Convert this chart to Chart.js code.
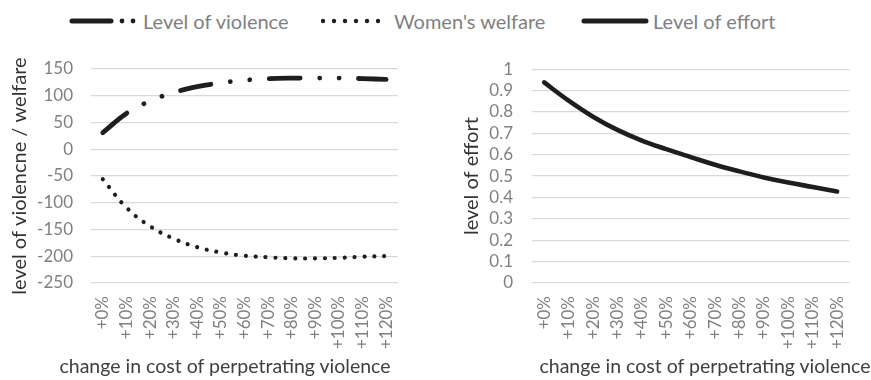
<!DOCTYPE html>
<html>
<head>
<meta charset="utf-8">
<script src="https://cdn.jsdelivr.net/npm/chart.js@4/dist/chart.umd.min.js"></script>
<style>
  html, body { margin: 0; padding: 0; background: #fff; overflow: hidden; width: 871px; height: 380px; }
  body { position: relative; font-family: Lato, "Open Sans", sans-serif; }
  .panel { position: absolute; top: 40px; }
  .lg-text { position: absolute; top: 9px; font-size: 20px; line-height: 24px; color: #7f7f7f; white-space: nowrap; }
  .lg-sample { position: absolute; top: 9px; }
  .xtitle { position: absolute; top: 355px; font-size: 19.5px; line-height: 22px; color: #404040; white-space: nowrap; transform: translateX(-50%); }
</style>
</head>
<body>
<!-- legend shared by both panels -->
<svg class="lg-sample" style="left:64px" width="78" height="24">
  <line x1="8" y1="12" x2="47" y2="12" stroke="#1e1e1e" stroke-width="5" stroke-linecap="round"/>
  <circle cx="58" cy="12" r="2.4" fill="#1e1e1e"/>
  <circle cx="69" cy="12" r="2.4" fill="#1e1e1e"/>
</svg>
<div class="lg-text" style="left:143px">Level of violence</div>
<svg class="lg-sample" style="left:316px" width="70" height="24">
  <circle cx="7" cy="12" r="2.2" fill="#1e1e1e"/>
  <circle cx="18" cy="12" r="2.2" fill="#1e1e1e"/>
  <circle cx="29" cy="12" r="2.2" fill="#1e1e1e"/>
  <circle cx="40" cy="12" r="2.2" fill="#1e1e1e"/>
  <circle cx="51" cy="12" r="2.2" fill="#1e1e1e"/>
  <circle cx="62" cy="12" r="2.2" fill="#1e1e1e"/>
</svg>
<div class="lg-text" style="left:394px">Women's welfare</div>
<svg class="lg-sample" style="left:578px" width="74" height="24">
  <line x1="6" y1="12" x2="68" y2="12" stroke="#1e1e1e" stroke-width="5" stroke-linecap="round"/>
</svg>
<div class="lg-text" style="left:653px">Level of effort</div>

<canvas id="left" class="panel" style="left:0px" width="420" height="340"></canvas>
<canvas id="right" class="panel" style="left:440px" width="431" height="340"></canvas>

<div class="xtitle" style="left:225px">change in cost of perpetrating violence</div>
<div class="xtitle" style="left:705px">change in cost of perpetrating violence</div>

<script>
// Cost increase steps shared by both panels
const categories = ['+0%', '+10%', '+20%', '+30%', '+40%', '+50%', '+60%',
                    '+70%', '+80%', '+90%', '+100%', '+110%', '+120%'];

// Left panel series
const violence = [31, 67, 90, 106, 117, 124, 129, 132, 133, 133, 133, 132, 130.5];
const welfare  = [-56, -109, -144, -167, -183, -193, -199, -202, -204, -204, -203, -201, -199.5];

// Right panel series
const effort = [0.938, 0.853, 0.778, 0.716, 0.666, 0.626, 0.589, 0.553, 0.522, 0.494, 0.470, 0.449, 0.428];

const FONT = 'Lato, "Open Sans", sans-serif';
const INK = '#1e1e1e';
const TICK_GREY = '#808080';
const GRID = '#d9d9d9';

// Plain number labels: "1", "0.9", "-250"
const plainNumber = v => String(Math.round(v * 1000) / 1000);

function xScale() {
  return {
    type: 'category',
    offset: true,
    grid: { display: false, drawTicks: false },
    border: { display: false },
    ticks: {
      autoSkip: false, maxRotation: 90, minRotation: 90, padding: 13,
      color: TICK_GREY, font: { family: FONT, size: 17 }
    },
    afterFit: s => { s.height = 97; }
  };
}

function yScale(opts) {
  return {
    min: opts.min, max: opts.max,
    grid: { color: GRID, lineWidth: 1.3, drawTicks: false },
    border: { display: false },
    ticks: {
      stepSize: opts.step, padding: opts.tickPad, autoSkip: false,
      callback: plainNumber,
      color: TICK_GREY, font: { family: FONT, size: 17 }
    },
    title: {
      display: true, text: opts.title, color: '#333333',
      font: { family: FONT, size: 20 }, padding: { top: opts.titlePad, bottom: 0 }
    },
    afterFit: s => { s.width = opts.width; }
  };
}

const common = {
  responsive: false,
  animation: false,
  devicePixelRatio: 1,
  plugins: { legend: { display: false }, tooltip: { enabled: false } },
  elements: { point: { radius: 0 }, line: { tension: 0.4, borderCapStyle: 'round', fill: false } }
};

new Chart(document.getElementById('left'), {
  type: 'line',
  data: {
    labels: categories,
    datasets: [
      { label: 'Level of violence', data: violence, borderColor: INK, borderWidth: 4.8,
        borderDash: [31, 19.5, 0.001, 19.5, 0.001, 19.5] },
      { label: "Women's welfare", data: welfare, borderColor: INK, borderWidth: 4.2,
        borderDash: [0.001, 9.9] }
    ]
  },
  options: Object.assign({}, common, {
    layout: { padding: { top: 29, right: 13, bottom: 0, left: 0 } },
    scales: {
      x: xScale(),
      y: yScale({ min: -250, max: 150, step: 50, tickPad: 18, width: 91,
                  title: 'level of violencne / welfare', titlePad: 7.5 })
    }
  })
});

new Chart(document.getElementById('right'), {
  type: 'line',
  data: {
    labels: categories,
    datasets: [
      { label: 'Level of effort', data: effort, borderColor: INK, borderWidth: 4.6 }
    ]
  },
  options: Object.assign({}, common, {
    layout: { padding: { top: 29, right: 13, bottom: 0, left: 0 } },
    scales: {
      x: xScale(),
      y: yScale({ min: 0, max: 1, step: 0.1, tickPad: 19, width: 92,
                  title: 'level of effort', titlePad: 19.5 })
    }
  })
});
</script>
</body>
</html>
